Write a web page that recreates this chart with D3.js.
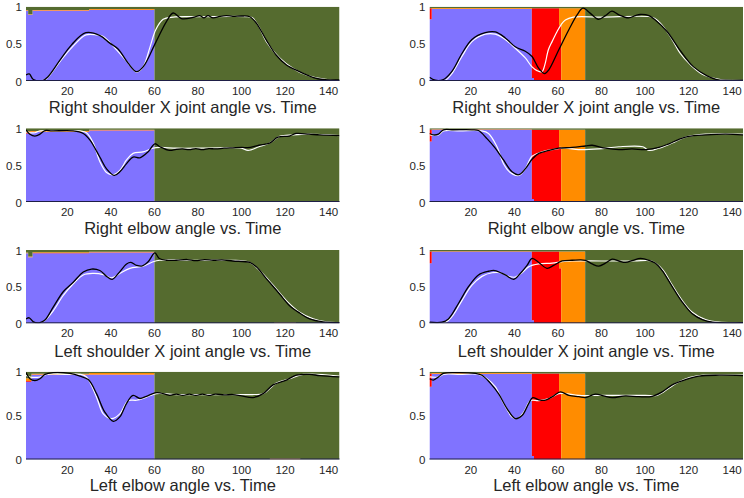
<!DOCTYPE html>
<html><head><meta charset="utf-8">
<script src="https://cdn.jsdelivr.net/npm/d3@7"></script>
<style>body{margin:0;background:#fff;} svg{display:block;font-family:"Liberation Sans",Arial,Helvetica,sans-serif;}</style>
</head><body><svg id="chart" width="744" height="498"></svg>
<script>
// ---------------- DATA ----------------
const classKeys = ["c1", "c2", "c3", "c4"];
const classColors = ["#8073FF", "#FF0000", "#FF8C00", "#556B2F"];
const timeDomain = [1, 145];
const xTickValues = [20, 40, 60, 80, 100, 120, 140];
const yTickValues = [0, 0.5, 1];
const yTickLabels = ["0", "0.5", "1"];
const rowTitles = [
  "Right shoulder X joint angle vs. Time",
  "Right elbow angle vs. Time",
  "Left shoulder X joint angle vs. Time",
  "Left elbow angle vs. Time"
];

// class bands: [tStart, tEnd, c1, c2, c3, c4]
const bandsRSx1 = [[1,2,0.945,0.004,0.008,0.043],[2,4,0.89,0,0.01,0.1],[4,30,0.945,0.004,0.008,0.043],[30,60,0.955,0.005,0.01,0.03],[60,113,0,0,0,1],[113,131,0,0,0.012,0.988],[131,145,0,0,0,1]];
const bandsRE1  = [[1,3,0.93,0.01,0.02,0.04],[3,30,0.95,0.004,0.008,0.038],[30,60,0.97,0.005,0.005,0.02],[60,145,0,0,0,1]];
const bandsLSx1 = [[1,2,0.955,0,0.01,0.035],[2,4,0.9,0,0.01,0.09],[4,30,0.955,0.004,0.01,0.031],[30,60,0.965,0.004,0.008,0.023],[60,115,0,0,0,1],[115,125,0,0,0.01,0.99],[125,145,0,0,0,1]];
const bandsLE1  = [[1,3.5,0.885,0.01,0.03,0.075],[3.5,30,0.965,0.004,0.008,0.023],[30,60,0.965,0.004,0.016,0.015],[60,113,0,0,0,1],[113,127,0,0,0.012,0.988],[127,145,0,0,0,1]];
const bandsRSx2 = [[1,2,0.83,0.15,0,0.02],[2,48,0.97,0.003,0.008,0.019],[48,49,0.04,0.94,0,0.02],[49,60.5,0,0.98,0,0.02],[60.5,61.5,0,0.75,0.23,0.02],[61.5,72.5,0,0,0.98,0.02],[72.5,145,0,0,0,1]];
const bandsRE2  = [[1,2,0.82,0.16,0,0.02],[2,48,0.98,0.003,0.005,0.012],[48,49,0.04,0.94,0,0.02],[49,60.5,0,0.98,0,0.02],[60.5,61.5,0,0.75,0.23,0.02],[61.5,72.5,0,0,0.98,0.02],[72.5,145,0,0,0,1]];
const bandsLSx2 = [[1,2,0.82,0.16,0,0.02],[2,48,0.975,0.003,0.005,0.017],[48,49,0.04,0.94,0,0.02],[49,60.5,0,0.98,0,0.02],[60.5,61.5,0,0.75,0.23,0.02],[61.5,72.5,0,0,0.98,0.02],[72.5,145,0,0,0,1]];
const bandsLE2  = [[1,2,0.83,0.15,0,0.02],[2,48,0.975,0.003,0.008,0.014],[48,49,0.04,0.94,0,0.02],[49,60.5,0,0.98,0,0.02],[60.5,61.5,0,0.75,0.23,0.02],[61.5,72.5,0,0,0.98,0.02],[72.5,145,0,0,0,1]];

// predicted (black) and reference (white) curves: [t, value]
const predRSx1 = [[1,0.08],[2.5,0.095],[4.4,0.02],[8.9,0.01],[11.2,0.06],[16.6,0.28],[22,0.49],[28.5,0.65],[35,0.61],[39.5,0.51],[43.3,0.43],[47.9,0.24],[51.8,0.126],[54.8,0.19],[60.6,0.52],[65.5,0.8],[68.6,0.915],[72.4,0.84],[77.7,0.855],[80.8,0.88],[82.7,0.85],[84.6,0.88],[86.9,0.85],[90,0.87],[93,0.88],[96,0.87],[100,0.875],[103.8,0.865],[106.8,0.78],[111.4,0.55],[115.9,0.35],[120.5,0.22],[126.6,0.126],[132.7,0.05],[137.3,0.02],[145,0.015]];
const trueRSx1 = [[1,0.005],[8,0.005],[10,0.02],[12,0.08],[16.6,0.26],[22,0.45],[28.5,0.62],[33.5,0.62],[36.5,0.6],[42.6,0.42],[47.9,0.24],[51.8,0.12],[54.8,0.19],[58,0.46],[60.6,0.69],[64,0.83],[68.6,0.86],[80,0.865],[95,0.87],[103,0.865],[105,0.85],[108,0.73],[111.4,0.53],[117.5,0.31],[123.6,0.17],[129.7,0.08],[135.8,0.035],[142,0.01],[145,0.005]];
const predRE1 = [[1,0.98],[2.8,0.92],[5.1,0.895],[7.4,0.92],[9.7,0.97],[13,0.965],[22.7,0.965],[27.3,0.93],[30.4,0.84],[34.9,0.61],[38,0.45],[41.5,0.36],[44.1,0.41],[47.2,0.52],[50.2,0.61],[53.3,0.6],[57.1,0.68],[60.2,0.79],[62.5,0.75],[67,0.7],[70,0.715],[73,0.72],[76,0.71],[79,0.725],[82,0.71],[85,0.725],[88,0.72],[92,0.73],[96,0.735],[100,0.74],[104,0.74],[108,0.77],[112.9,0.8],[116.7,0.88],[122,0.895],[125,0.93],[131,0.92],[136,0.91],[145,0.9]];
const trueRE1 = [[1,0.955],[2.8,0.94],[5.1,0.94],[7.4,0.965],[15,0.965],[25.8,0.965],[28.8,0.94],[31.9,0.8],[34.9,0.55],[38,0.4],[41,0.37],[44.1,0.43],[47.2,0.57],[50.2,0.66],[54.8,0.68],[59.4,0.73],[62.5,0.74],[70,0.73],[80,0.73],[90,0.735],[100,0.73],[103,0.7],[108,0.75],[112.9,0.8],[117.5,0.89],[123.6,0.91],[131,0.92],[145,0.9]];
const predLSx1 = [[1,0.06],[2.5,0.075],[4.4,0.02],[7.4,0.01],[9.7,0.045],[13.5,0.22],[18.1,0.43],[22.7,0.56],[27.3,0.7],[31.1,0.74],[34.9,0.72],[38,0.64],[40.6,0.6],[43.4,0.68],[47.2,0.81],[49.2,0.83],[51.8,0.79],[54.1,0.78],[57.1,0.84],[60.2,0.96],[62.2,0.885],[65.5,0.86],[70,0.86],[75,0.87],[79,0.855],[83,0.87],[87,0.86],[91,0.865],[96,0.85],[103.8,0.83],[106.8,0.77],[111.4,0.61],[117.5,0.4],[122.1,0.24],[126.7,0.14],[131.3,0.06],[137.4,0.02],[145,0.01]];
const trueLSx1 = [[1,0.003],[7.4,0.003],[9.7,0.04],[13.5,0.17],[18.1,0.38],[22.7,0.54],[27.3,0.66],[31.9,0.68],[36.5,0.665],[40.3,0.62],[44.1,0.68],[48.7,0.75],[54.8,0.78],[59.4,0.84],[62.5,0.86],[80,0.86],[95,0.86],[103.8,0.83],[108.3,0.72],[114.5,0.52],[120.6,0.31],[126.7,0.15],[132.9,0.06],[139,0.02],[145,0.01]];
const predLE1 = [[1,0.99],[2.8,0.92],[5.1,0.9],[7.4,0.92],[9.7,0.97],[13.5,0.99],[21.2,0.98],[25.8,0.95],[29.6,0.91],[33.4,0.75],[37.2,0.54],[41.1,0.435],[44.1,0.485],[47.2,0.64],[50.2,0.73],[53.3,0.695],[56.3,0.72],[60.2,0.76],[62.5,0.76],[67,0.73],[70,0.745],[73,0.73],[76,0.745],[79,0.73],[82,0.745],[85,0.73],[88,0.745],[92,0.735],[96,0.74],[100,0.725],[105.3,0.705],[109.9,0.75],[114.5,0.85],[120.6,0.905],[125.2,0.96],[131.3,0.97],[136,0.955],[145,0.94]];
const trueLE1 = [[1,0.96],[2.8,0.94],[7.4,0.94],[10.5,0.97],[20,0.97],[25.8,0.97],[28.8,0.94],[33.4,0.71],[36.5,0.52],[40.3,0.465],[44.1,0.52],[47.9,0.67],[51.8,0.675],[56.3,0.71],[60.9,0.75],[70,0.74],[90,0.74],[105,0.74],[109.9,0.75],[116,0.87],[122.1,0.92],[128.3,0.97],[145,0.95]];

const predRSx2 = [[1,0.05],[3.6,0.01],[7.4,0.02],[11.3,0.13],[15.9,0.37],[20.5,0.56],[26.6,0.65],[31.2,0.66],[35.8,0.58],[40.4,0.46],[45,0.4],[48.1,0.33],[51.2,0.17],[53.9,0.1],[55.8,0.15],[60.4,0.42],[65,0.69],[68.8,0.89],[71.5,0.98],[74.9,0.91],[78.6,0.83],[81.8,0.88],[84.8,0.94],[88,0.89],[92.4,0.85],[95.6,0.88],[97.8,0.895],[101.8,0.88],[104.7,0.82],[110,0.67],[116.2,0.41],[122.3,0.19],[128.5,0.07],[133,0.02],[137,0.01],[145,0.01]];
const trueRSx2 = [[1,0.005],[8,0.005],[11.3,0.1],[15.9,0.33],[20.5,0.53],[26.6,0.63],[31.2,0.63],[35.8,0.56],[40.4,0.44],[45,0.31],[48.1,0.19],[50.4,0.14],[52.7,0.125],[54,0.22],[55.6,0.42],[57.3,0.53],[59.5,0.66],[61.5,0.76],[63.4,0.82],[67,0.86],[80,0.86],[102.4,0.865],[104.5,0.84],[107,0.78],[111.6,0.6],[116.2,0.37],[120.8,0.22],[127,0.08],[134.7,0.02],[145,0.01]];
const predRE2 = [[1,0.93],[2.8,0.91],[5.1,0.92],[7.4,0.98],[12,0.98],[20.5,0.98],[23.5,0.97],[27.4,0.86],[31.2,0.73],[35,0.57],[38.9,0.41],[42,0.37],[45,0.45],[48.1,0.58],[51.2,0.66],[55.8,0.7],[60.4,0.73],[66.5,0.74],[72.6,0.76],[75.7,0.77],[81.8,0.73],[88,0.71],[94,0.72],[100.2,0.71],[106.4,0.74],[111,0.79],[115.6,0.85],[120,0.89],[127.8,0.91],[137,0.92],[145,0.91]];
const trueRE2 = [[1,0.91],[5.1,0.91],[7.4,0.965],[15,0.965],[25,0.965],[28.1,0.93],[32,0.75],[35,0.52],[38.1,0.4],[42,0.36],[45,0.45],[48.1,0.62],[52.7,0.68],[57.3,0.71],[63.4,0.73],[69.5,0.71],[78.7,0.72],[88,0.75],[99,0.75],[101.8,0.7],[106.4,0.73],[112.5,0.8],[118.6,0.88],[127.8,0.92],[145,0.92]];
const predLSx2 = [[1,0.015],[6.7,0.015],[9.7,0.06],[14.3,0.27],[18.9,0.5],[23.5,0.66],[28.1,0.71],[31,0.72],[35.8,0.66],[39.7,0.6],[42.7,0.68],[45.8,0.79],[48.1,0.885],[51.2,0.83],[55,0.75],[58,0.79],[61.9,0.85],[66.5,0.86],[72.6,0.86],[75.7,0.81],[78.8,0.78],[81.8,0.82],[84.9,0.875],[88,0.85],[91,0.83],[94.5,0.86],[97.9,0.885],[101.8,0.86],[104.8,0.82],[107.9,0.72],[112.5,0.5],[117.1,0.29],[121.7,0.13],[126.3,0.05],[131,0.015],[145,0.01]];
const trueLSx2 = [[1,0.01],[8,0.01],[11.3,0.09],[15.9,0.31],[20.5,0.52],[25.1,0.64],[29.7,0.69],[33.5,0.69],[37.4,0.64],[40.4,0.63],[43.5,0.69],[46.5,0.77],[51.2,0.81],[57.3,0.82],[61.9,0.84],[66.5,0.85],[80,0.85],[95,0.85],[103,0.85],[107.9,0.74],[112.5,0.52],[117.1,0.31],[121.7,0.15],[127.8,0.05],[133.9,0.015],[145,0.01]];
const predLE2 = [[1,0.92],[2.8,0.905],[5.1,0.94],[7.4,0.98],[12.7,0.99],[22,0.98],[25.1,0.96],[28.9,0.87],[32.7,0.75],[36.6,0.58],[40.4,0.465],[43.5,0.5],[46.6,0.64],[48.4,0.705],[51.2,0.68],[54.2,0.675],[58.1,0.725],[61.1,0.77],[65,0.73],[69.6,0.715],[72.6,0.705],[77.2,0.745],[81,0.725],[84.9,0.705],[91,0.725],[97.2,0.715],[103.3,0.72],[107.9,0.77],[112.5,0.85],[118.6,0.91],[124.8,0.95],[134,0.96],[145,0.955]];
const trueLE2 = [[1,0.94],[5.1,0.94],[7.4,0.97],[15,0.97],[23.6,0.97],[27.4,0.92],[31.2,0.83],[35,0.64],[38.9,0.485],[41.2,0.465],[44.3,0.54],[47.3,0.67],[51.2,0.67],[55.8,0.695],[60.4,0.75],[63.4,0.75],[69.6,0.73],[80,0.73],[100,0.73],[105.5,0.73],[108.5,0.77],[114.5,0.87],[120.7,0.935],[126.8,0.96],[145,0.96]];

// panel list (row, column) -> data
const panels = [
  {row:0, col:0, bands:bandsRSx1, pred:predRSx1, truth:trueRSx1},
  {row:0, col:1, bands:bandsRSx2, pred:predRSx2, truth:trueRSx2},
  {row:1, col:0, bands:bandsRE1,  pred:predRE1,  truth:trueRE1},
  {row:1, col:1, bands:bandsRE2,  pred:predRE2,  truth:trueRE2},
  {row:2, col:0, bands:bandsLSx1, pred:predLSx1, truth:trueLSx1},
  {row:2, col:1, bands:bandsLSx2, pred:predLSx2, truth:trueLSx2},
  {row:3, col:0, bands:bandsLE1,  pred:predLE1,  truth:trueLE1},
  {row:3, col:1, bands:bandsLE2,  pred:predLE2,  truth:trueLE2}
];

// ---------------- LAYOUT ----------------
const colRanges = [[26, 339.5], [429.5, 743]];
const rowRanges = [[81, 6.7], [202, 128.3], [323.3, 250], [459.5, 371.7]];
const titleBaselines = [112.5, 233.5, 356.5, 491];
const textColor = "#262626";

const svg = d3.select("#chart");
const defs = svg.append("defs");

panels.forEach((p, i) => {
  const [x0, x1] = colRanges[p.col];
  const [yb, yt] = rowRanges[p.row];
  const x = d3.scaleLinear().domain(timeDomain).range([x0, x1]);
  const y = d3.scaleLinear().domain([0, 1]).range([yb, yt]);
  const g = svg.append("g");

  defs.append("clipPath").attr("id", "clip" + i)
    .append("rect").attr("x", x0).attr("y", yt).attr("width", x1 - x0).attr("height", yb - yt);
  const plot = g.append("g").attr("clip-path", `url(#clip${i})`);

  // stacked class bands: one path per class layer
  const rows = p.bands.map(b => ({t0: b[0], t1: b[1], c1: b[2], c2: b[3], c3: b[4], c4: b[5]}));
  const stacked = d3.stack().keys(classKeys)(rows);
  const area = d3.area().x(d => x(d.t)).y0(d => y(d.lo)).y1(d => y(d.hi));
  stacked.forEach((layer, k) => {
    const pts = layer.flatMap(d => [
      {t: d.data.t0, lo: d[0], hi: d[1]},
      {t: d.data.t1, lo: d[0], hi: d[1]}
    ]);
    plot.append("path").attr("d", area(pts)).attr("fill", classColors[k]);
  });

  // bottom axis line
  g.append("line").attr("x1", x0).attr("x2", x1).attr("y1", yb - 0.5).attr("y2", yb - 0.5)
    .attr("stroke", "#1e1e46").attr("stroke-width", 1);

  const line = d3.line().x(d => x(d[0])).y(d => y(d[1])).curve(d3.curveCatmullRom.alpha(0.5));
  plot.append("path").attr("d", line(p.truth)).attr("fill", "none")
    .attr("stroke", "#ffffff").attr("stroke-width", 1.2);
  plot.append("path").attr("d", line(p.pred)).attr("fill", "none")
    .attr("stroke", "#000000").attr("stroke-width", 1.3);

  // y tick labels
  g.selectAll(".yt").data(yTickValues).enter().append("text")
    .attr("x", x0 - 4).attr("y", d => y(d) + 0.6)
    .attr("text-anchor", "end").attr("dominant-baseline", "central")
    .attr("font-size", 11.5).attr("fill", textColor)
    .text((d, j) => yTickLabels[j]);

  // x tick labels
  g.selectAll(".xt").data(xTickValues).enter().append("text")
    .attr("x", d => x(d)).attr("y", yb + 10)
    .attr("text-anchor", "middle").attr("dominant-baseline", "central")
    .attr("font-size", 11.5).attr("fill", textColor)
    .text(d => d);

  // title
  g.append("text").attr("x", (x0 + x1) / 2).attr("y", titleBaselines[p.row])
    .attr("text-anchor", "middle").attr("font-size", 16.5).attr("fill", textColor)
    .text(rowTitles[p.row]);
});
</script></body></html>
